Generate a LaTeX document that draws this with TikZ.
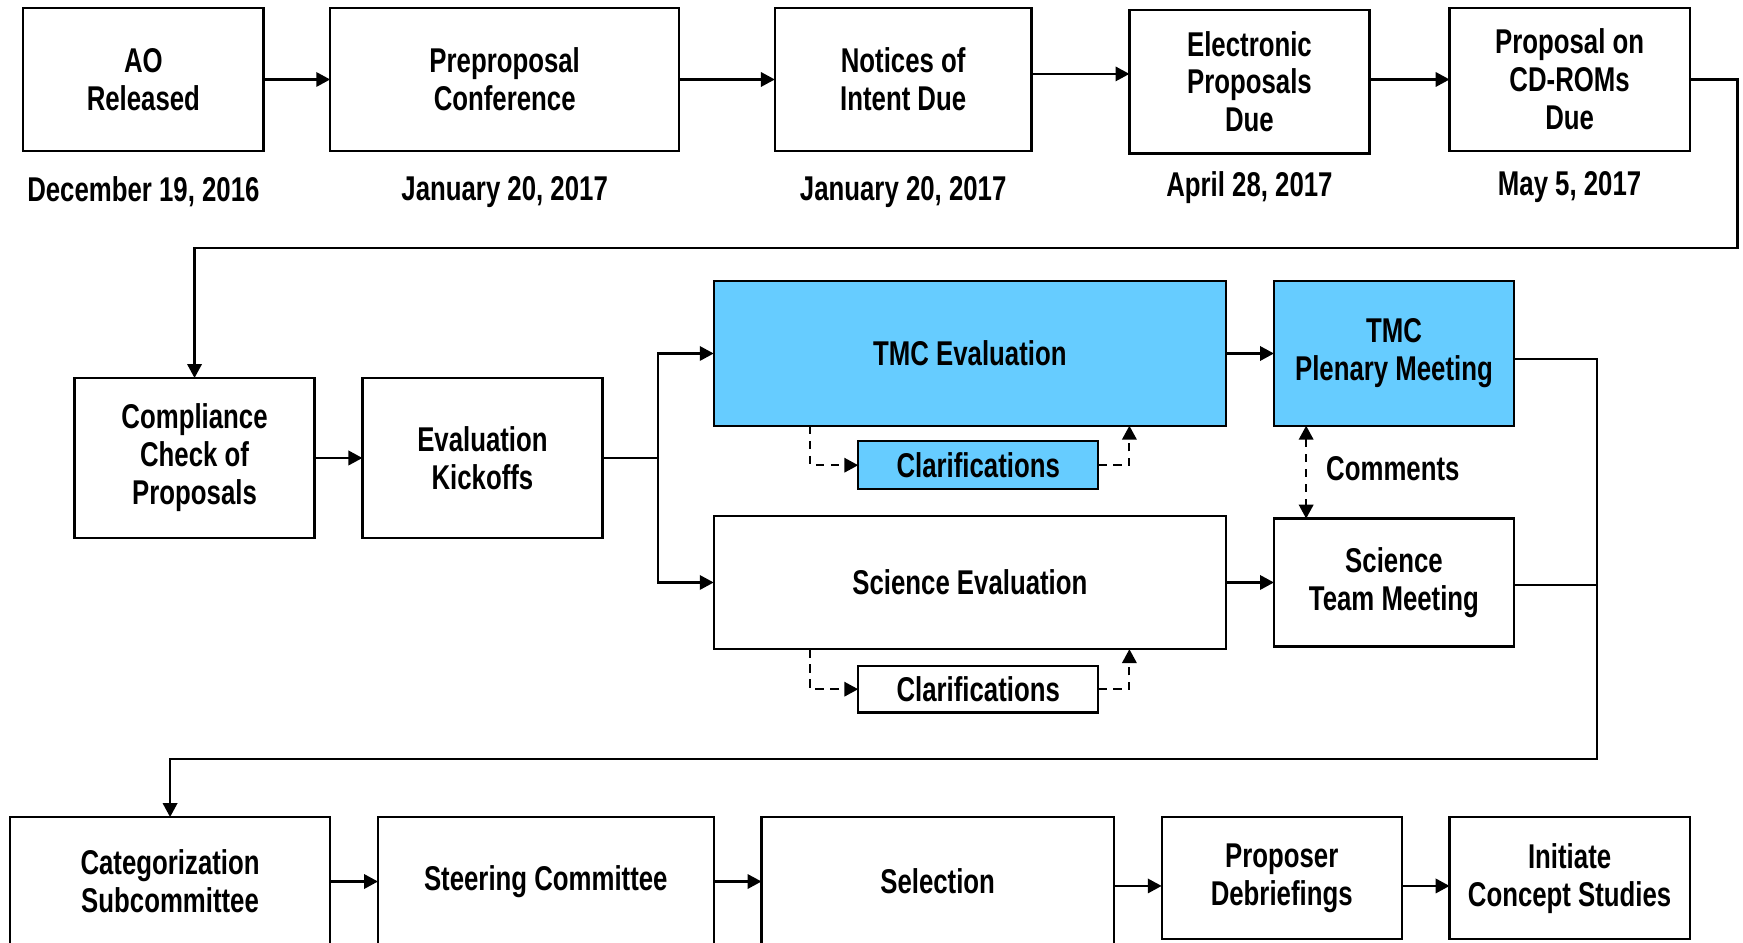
\documentclass[tikz,border=0pt]{standalone}
\usepackage{fontspec}
\setmainfont[FakeStretch=0.75]{Liberation Sans}
\usetikzlibrary{arrows.meta,positioning}
\definecolor{tmcblue}{HTML}{66CCFF}

\begin{document}
\begin{tikzpicture}[
      node distance=4.3mm,
      box/.style={draw, line width=0.2mm, outer sep=0pt, align=center, inner sep=1pt,
        font=\fontsize{8.8}{9.7}\selectfont\bfseries, minimum width=21.6mm},
      tmcbox/.style={box, fill=tmcblue},
      date/.style={inner sep=0pt, font=\fontsize{8.8}{9.7}\selectfont\bfseries},
      line/.style={line width=0.19mm},
      arr/.style={line, -{Triangle[length=1.25mm, width=1.3mm]}},
      dasharr/.style={arr, dash pattern=on 0.75mm off 0.6mm},
      dblarr/.style={dasharr, {Triangle[length=1.25mm, width=1.3mm]}-{Triangle[length=1.25mm, width=1.3mm]}}]
    \useasboundingbox (0,0) rectangle (15.68,8.48);
    \clip (0,0) rectangle (15.68,8.48);
    \node[box, minimum height=12.9mm] (ao) at (1.29,7.765) {AO\\Released};
    \node[box, minimum height=12.9mm, minimum width=31.4mm, right=6mm of ao] (prep) {Preproposal\\Conference};
    \node[box, minimum height=12.9mm, minimum width=23.1mm, right=8.6mm of prep] (noi) {Notices of\\Intent Due};
    \node[box, minimum height=12.9mm, right=8.8mm of noi, yshift=-0.2mm] (elec) {Electronic\\Proposals\\Due};
    \node[box, minimum height=12.9mm, right=7.2mm of elec, yshift=0.2mm] (cd) {Proposal on\\CD-ROMs\\Due};
    \node[date, below=2.2mm of ao] (dao) {December 19, 2016};
    \node[date, below=2.2mm of prep] (dprep) {January 20, 2017};
    \node[date, below=2.2mm of noi] (dnoi) {January 20, 2017};
    \node[date, below=1.6mm of elec] (delec) {April 28, 2017};
    \node[date, below=1.8mm of cd] (dcd) {May 5, 2017};
    \node[box, minimum height=14.4mm] (comp) at (1.75,4.36) {Compliance\\Check of\\Proposals};
    \node[box, minimum height=14.4mm, right=of comp] (kick) {Evaluation\\Kickoffs};
    \node[tmcbox, minimum width=46.1mm, minimum height=13mm] (tmc) at (8.725,5.30) {TMC Evaluation};
    \node[tmcbox, minimum height=13mm, right=of tmc] (plen) {TMC\\Plenary Meeting};
    \node[tmcbox, minimum height=4.3mm] (clara) at (8.80,4.295) {Clarifications};
    \node[box, minimum width=46.1mm, minimum height=12mm] (sci) at (8.725,3.24) {Science Evaluation};
    \node[box, minimum height=11.5mm, right=of sci] (team) {Science\\Team Meeting};
    \node[box, minimum height=4.2mm] (clarb) at (8.80,2.28) {Clarifications};
    \node[date] (comm) at (12.53,4.26) {Comments};
    \node[box, minimum width=28.8mm, minimum height=11.6mm] (cat) at (1.53,0.55) {Categorization\\Subcommittee};
    \node[box, minimum width=30.2mm, minimum height=11.6mm, right=of cat] (steer) {Steering Committee};
    \node[box, minimum width=31.7mm, minimum height=11.6mm, right=of steer] (sel) {Selection};
    \node[box, minimum height=11mm, right=of sel.north east, anchor=north west] (prop) {Proposer\\Debriefings};
    \node[box, minimum height=11mm, right=of prop] (init) {Initiate\\Concept Studies};
    \draw[arr] (ao) -- (prep);
    \draw[arr] (prep) -- (noi);
    \draw[arr] ([yshift=0.5mm]noi.east) -- ([yshift=0.5mm]noi.east -| elec.west);
    \draw[arr] (elec.east |- cd.west) -- (cd.west);
    \coordinate (turn1) at (15.63,6.25);
    \draw[arr] (cd.east) -| (turn1) -| (comp.north);
    \draw[arr] (comp) -- (kick);
    \coordinate[right=5mm of kick.east] (fork);
    \draw[line] (kick.east) -- (fork);
    \draw[arr] (fork) |- (tmc.west);
    \draw[arr] (fork) |- (sci.west);
    \draw[arr] (tmc) -- (plen);
    \draw[arr] (sci) -- (team);
    \coordinate[left=4.3mm of clara.west] (ca1);
    \coordinate[right=2.8mm of clara.east] (ca2);
    \draw[dasharr] (ca1 |- tmc.south) |- (clara.west);
    \draw[dasharr] (clara.east) -| (ca2 |- tmc.south);
    \coordinate[left=4.3mm of clarb.west] (cb1);
    \coordinate[right=2.8mm of clarb.east] (cb2);
    \draw[dasharr] (cb1 |- sci.south) |- (clarb.west);
    \draw[dasharr] (clarb.east) -| (cb2 |- sci.south);
    \coordinate[right=2.9mm of plen.south west] (cm);
    \draw[dblarr] (cm) -- (cm |- team.north);
    \coordinate (turn2) at (14.37,1.65);
    \draw[arr] ([yshift=-0.5mm]plen.east) -| (turn2) -| (cat.north);
    \draw[line] ([yshift=-0.2mm]team.east) -- ([yshift=-0.2mm]team.east -| turn2);
    \draw[arr] (cat) -- (steer);
    \draw[arr] (steer) -- (sel);
    \draw[arr] ([yshift=-0.4mm]sel.east) -- ([yshift=-0.4mm]sel.east -| prop.west);
    \draw[arr] ([yshift=-0.7mm]prop.east) -- ([yshift=-0.7mm]prop.east -| init.west);
  \end{tikzpicture}
\end{document}
